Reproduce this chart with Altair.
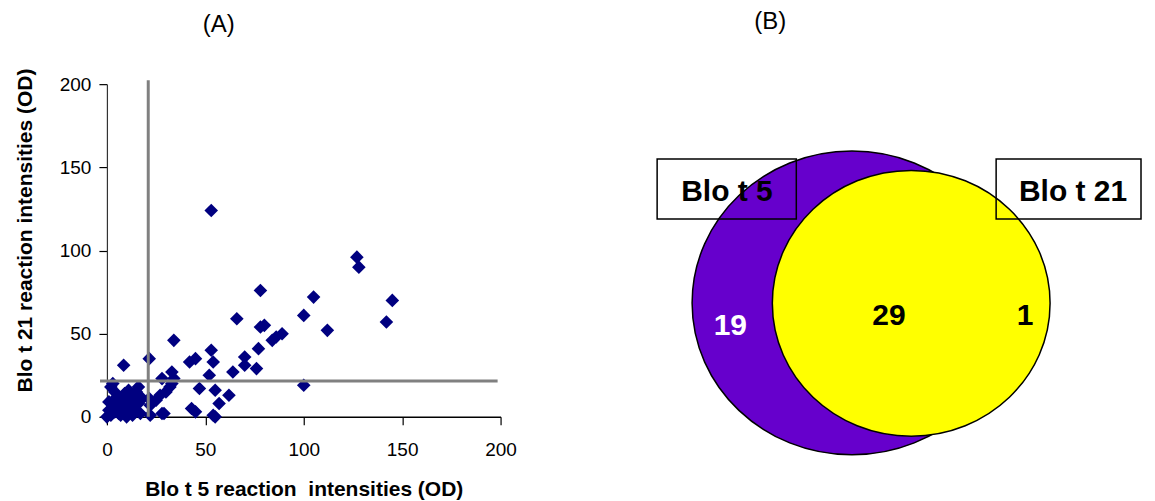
import altair as alt
import pandas as pd

# ---------------- data ----------------
blo_t5 = [53, 127, 128, 78, 105, 145, 66, 100, 142, 112, 78, 80, 84, 86, 89,
          53, 54, 45, 42, 52, 64, 70, 70, 76, 77, 34, 21.5, 33, 34, 28,
          55, 47, 57, 62, 55, 45, 100, 43, 28, 30, 32, 27, 25, 33, 21.5, 22, 22, 29, 54,
          8.5,
          0, 2, 4, 6, 8, 10, 12, 14, 16, 3, 5, 7, 9, 11, 13, 15, 1, 6, 10, 13, 17, 4, 2, 11, 16, 3, 18, 1, 7]
blo_t21 = [124, 96, 90, 76, 72, 70, 59, 61, 57, 52, 54, 55, 46, 48, 50,
           40, 33, 35, 33, 25, 27, 36, 31, 29, 41, 46, 35, 27, 23, 23,
           16, 17, 8, 13, 0, 3, 19, 5, 2, 15, 18, 13, 10, 20, 11, 7, 1, 2, 1,
           31,
           0, 1, 3, 2, 5, 3, 6, 4, 8, 8, 12, 10, 14, 9, 12, 15, 4, 6, 0, 1, 2, 15, 18, 16, 18, 20, 11, 9, 1]

cutoff_x = [21]
cutoff_y = [21.5]
axis_ticks = [0, 50, 100, 150, 200]

venn_sets = ["Blo t 5", "Blo t 21"]
venn_counts = [19, 29, 1]

# ---------------- scatter (A) ----------------
pts = pd.DataFrame({"x": blo_t5, "y": blo_t21})
xs = alt.Scale(domain=[0, 200], nice=False)
ys = alt.Scale(domain=[0, 200], nice=False)

xaxis = alt.Axis(values=axis_ticks, tickSize=8, labelFontSize=19, labelPadding=16,
                 labelColor="black", tickColor="black", domainColor="black",
                 domainWidth=1.5, tickWidth=1.2, grid=False, labelFlush=False,
                 title="Blo t 5 reaction\u00a0 intensities (OD)", titleFontSize=21,
                 titleFontWeight="bold", titleColor="black", titlePadding=19)
yaxis = alt.Axis(values=axis_ticks, tickSize=8, labelFontSize=19, labelPadding=8,
                 labelColor="black", tickColor="black", domainColor="#333333",
                 domainWidth=1.2, tickWidth=1.2, grid=False, labelFlush=False,
                 title="Blo t 21 reaction intensities (OD)", titleFontSize=21,
                 titleFontWeight="bold", titleColor="black", titlePadding=24,
                 titleY=146)

points = alt.Chart(pts).mark_point(shape="diamond", filled=True, color="#000080",
                                   opacity=1, size=185).encode(
    x=alt.X("x:Q", scale=xs, axis=xaxis),
    y=alt.Y("y:Q", scale=ys, axis=yaxis),
)

vline = alt.Chart(pd.DataFrame({"x": cutoff_x, "y0": [0], "y1": [202.4]})).mark_rule(
    color="#808080", strokeWidth=3).encode(x="x:Q", y="y0:Q", y2="y1:Q")
hline = alt.Chart(pd.DataFrame({"y": cutoff_y, "x0": [-3.5], "x1": [198.5]})).mark_rule(
    color="#808080", strokeWidth=3).encode(y="y:Q", x="x0:Q", x2="x1:Q")

scatter = alt.layer(points, vline, hline).properties(
    width=394, height=333,
    title=alt.TitleParams("(A)", anchor="start", frame="group", dx=96, offset=31,
                          fontSize=24, fontWeight="normal", color="black"),
)

# ---------------- Venn (B) ----------------
def ellipse_path(aspect):
    k = 0.5523
    a = aspect
    return (f"M -1 0 C -1 {-k*a:.4f} {-k:.4f} {-a:.4f} 0 {-a:.4f} "
            f"C {k:.4f} {-a:.4f} 1 {-k*a:.4f} 1 0 "
            f"C 1 {k*a:.4f} {k:.4f} {a:.4f} 0 {a:.4f} "
            f"C {-k:.4f} {a:.4f} -1 {k*a:.4f} -1 0 Z")

vx = alt.Scale(domain=[0, 495], nice=False, zero=False)
vy = alt.Scale(domain=[0, 333], nice=False, zero=False)

purple = alt.Chart(pd.DataFrame({"x": [201.7], "y": [114]})).mark_point(
    shape=ellipse_path(152 / 160), filled=True, fill="#6600CC", stroke="black",
    strokeWidth=1.5, opacity=1, size=320 ** 2).encode(
    x=alt.X("x:Q", scale=vx, axis=None), y=alt.Y("y:Q", scale=vy, axis=None))

yellow = alt.Chart(pd.DataFrame({"x": [261], "y": [113.7]})).mark_point(
    shape=ellipse_path(133 / 139), filled=True, fill="#FFFF00", stroke="black",
    strokeWidth=1.5, opacity=1, size=278 ** 2).encode(
    x=alt.X("x:Q", scale=vx, axis=None), y=alt.Y("y:Q", scale=vy, axis=None))

boxes_df = pd.DataFrame({"name": venn_sets, "x0": [6.7, 346], "x1": [146, 491],
                         "y0": [198, 198], "y1": [258, 258], "tx": [76.6, 423],
                         "ty": [216.3, 216.3]})
boxes = alt.Chart(boxes_df).mark_rect(fillOpacity=0, stroke="black", strokeWidth=1.5).encode(
    x=alt.X("x0:Q", scale=vx, axis=None), x2="x1:Q",
    y=alt.Y("y0:Q", scale=vy, axis=None), y2="y1:Q")
box_text = alt.Chart(boxes_df).mark_text(fontSize=30, fontWeight="bold", color="black",
                                         baseline="alphabetic", align="center").encode(
    x=alt.X("tx:Q", scale=vx, axis=None), y=alt.Y("ty:Q", scale=vy, axis=None),
    text="name:N")

counts_df = pd.DataFrame({"n": venn_counts, "x": [80, 238.8, 375], "y": [82, 92, 92],
                          "c": ["white", "black", "black"]})
count_text = alt.Chart(counts_df).mark_text(fontSize=30, fontWeight="bold",
                                            baseline="alphabetic", align="center").encode(
    x=alt.X("x:Q", scale=vx, axis=None), y=alt.Y("y:Q", scale=vy, axis=None),
    text="n:Q", color=alt.Color("c:N", scale=None))

venn = alt.layer(purple, yellow, boxes, box_text, count_text).properties(
    width=495, height=333,
    title=alt.TitleParams("(B)", anchor="start", frame="group", dx=104, offset=50,
                          fontSize=24, fontWeight="normal", color="black"),
)

chart = alt.hconcat(scatter, venn, spacing=150, bounds="flush").properties(
    padding={"left": 6, "top": 2, "right": 2, "bottom": 0}
).configure(font="Liberation Sans").configure_view(strokeWidth=0)

chart.save("out.html", embed_options={"renderer": "svg", "actions": False})
